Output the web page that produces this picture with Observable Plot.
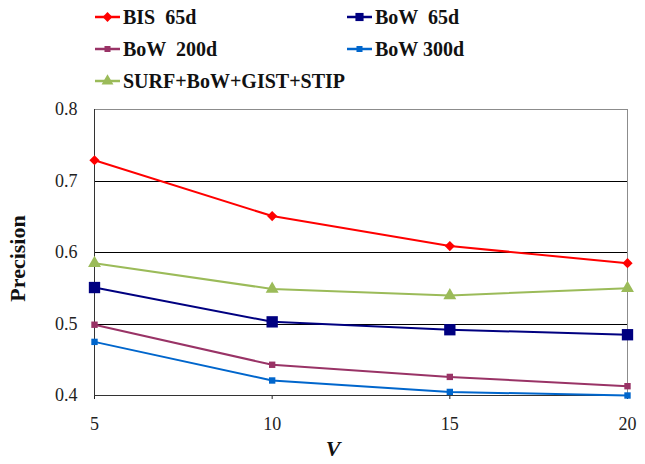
<!DOCTYPE html>
<html>
<head>
<meta charset="utf-8">
<script src="https://cdn.jsdelivr.net/npm/d3@7"></script>
<script src="https://cdn.jsdelivr.net/npm/@observablehq/plot@0.6"></script>
<style>
  html, body { margin: 0; padding: 0; background: white; }
  #wrap { position: relative; width: 645px; height: 464px; overflow: hidden; background: white; }
  #legend { position: absolute; left: 0; top: 0; width: 645px; height: 100px; }
  .item { position: absolute; display: flex; align-items: center; font-family: "Liberation Serif", "Times New Roman", serif; font-weight: bold; font-size: 20px; color: #111; white-space: pre; }
  .item svg { margin-right: 3px; }
  #chart { position: absolute; left: 0; top: 100px; }
  .crisp { shape-rendering: crispEdges; }
</style>
</head>
<body>
<div id="wrap">
  <div id="legend"></div>
  <div id="chart"></div>
</div>
<script>
// ---- data ----
const V = [5, 10, 15, 20];
const seriesNames = ["BIS  65d", "BoW  65d", "BoW  200d", "BoW 300d", "SURF+BoW+GIST+STIP"];
const BIS_65d = [0.729, 0.651, 0.609, 0.585];
const BoW_65d = [0.551, 0.503, 0.492, 0.485];
const BoW_200d = [0.499, 0.443, 0.426, 0.413];
const BoW_300d = [0.475, 0.421, 0.405, 0.400];
const SURF_BoW_GIST_STIP = [0.585, 0.549, 0.540, 0.550];
const yTicks = [0.4, 0.5, 0.6, 0.7, 0.8];

// ---- styles ----
const colors = ["#ff0000", "#000080", "#993366", "#0066cc", "#9bbb59"];
const symbols = ["diamond2", "square", "square", "square", "triangle"];
const radii = [4.6, 6.4, 3.6, 3.6, 4.8];
const legendRadii = [4.4, 4.6, 3.4, 3.4, 4.4];
const d3Symbols = [d3.symbolDiamond2, d3.symbolSquare, d3.symbolSquare, d3.symbolSquare, d3.symbolTriangle];

const values = [BIS_65d, BoW_65d, BoW_200d, BoW_300d, SURF_BoW_GIST_STIP];
const data = [];
seriesNames.forEach((s, i) => V.forEach((v, j) => data.push({series: s, v, p: values[i][j], idx: i})));

// ---- legend ----
const legend = document.getElementById("legend");
const pos = [[95, 17], [347, 17], [95, 49], [347, 49], [95, 81]];
seriesNames.forEach((name, i) => {
  const div = document.createElement("div");
  div.className = "item";
  div.style.left = pos[i][0] + "px";
  div.style.top = (pos[i][1] - 12) + "px";
  div.style.height = "24px";
  const sw = d3.create("svg").attr("width", 25).attr("height", 16);
  sw.append("line").attr("x1", 0).attr("x2", 25).attr("y1", 8).attr("y2", 8).attr("stroke", colors[i]).attr("stroke-width", 2.5);
  const r = legendRadii[i];
  sw.append("path").attr("transform", "translate(12.5,8)").attr("fill", colors[i])
    .attr("d", d3.symbol(d3Symbols[i], r * r * Math.PI)());
  div.appendChild(sw.node());
  const t = document.createElement("span");
  t.textContent = name;
  div.appendChild(t);
  legend.appendChild(div);
});

// ---- chart ----
const chart = Plot.plot({
  width: 645,
  height: 364,
  marginTop: 9,
  marginBottom: 69,
  marginLeft: 94,
  marginRight: 18,
  style: {fontFamily: "Liberation Serif, Times New Roman, serif", fontSize: "18px", color: "#222", background: "white", overflow: "visible"},
  x: {domain: [5, 20], ticks: V, tickSize: 4, tickPadding: 18, label: null, tickFormat: d => String(d)},
  y: {domain: [0.4, 0.8], ticks: yTicks, tickSize: 0, tickPadding: 17, label: null, tickFormat: d => d.toFixed(1)},
  r: {type: "identity"},
  color: {domain: seriesNames, range: colors},
  symbol: {domain: seriesNames, range: symbols},
  marks: [
    Plot.frame({stroke: "#8c8c8c", className: "crisp"}),
    Plot.ruleY(yTicks.slice(1, -1), {stroke: "#000", strokeWidth: 1, className: "crisp"}),
    Plot.ruleX([5], {stroke: "#333", strokeWidth: 1.2, className: "crisp"}),
    Plot.ruleY([0.4], {stroke: "#333", strokeWidth: 1.2, className: "crisp"}),
    Plot.line(data, {x: "v", y: "p", z: "series", stroke: "series", strokeWidth: 2}),
    Plot.dot(data, {x: "v", y: "p", symbol: "series", fill: "series", stroke: "none", r: d => radii[d.idx]}),
    Plot.text(["Precision"], {frameAnchor: "left", dx: -77, dy: 6, rotate: -90, textAnchor: "middle", lineAnchor: "middle", fontSize: 22, fontWeight: "bold", fill: "#111"}),
    Plot.text(["V"], {frameAnchor: "bottom", dx: -28, dy: 53, lineAnchor: "middle", fontSize: 22, fontWeight: "bold", fontStyle: "italic", fill: "#111"})
  ]
});
document.getElementById("chart").appendChild(chart);
</script>
</body>
</html>
